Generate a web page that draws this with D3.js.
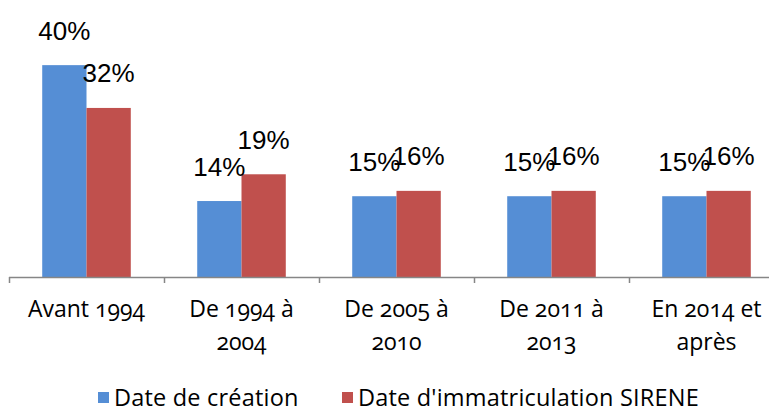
<!DOCTYPE html>
<html>
<head>
<meta charset="utf-8">
<script src="https://cdn.jsdelivr.net/npm/d3@7"></script>
<style>
  html, body { margin: 0; padding: 0; background: #fff; }
  svg { display: block; }
  .cat, .leg { font-family: "Open Sans", sans-serif; font-size: 23px; fill: #000; font-feature-settings: "onum"; }
  .leg { font-size: 23.5px; letter-spacing: 0.2px; }
  .val { font-family: "Liberation Sans", Arial, sans-serif; font-size: 26px; fill: #000; }
</style>
</head>
<body>
<svg id="chart" width="769" height="412"></svg>
<script>
const categories = ["Avant 1994", "De 1994 à\n2004", "De 2005 à\n2010", "De 2011 à\n2013", "En 2014 et\naprès"];
const seriesNames = ["Date de création", "Date d'immatriculation SIRENE"];
const creation = [39.6, 14.2, 15.1, 15.1, 15.1];
const sirene = [31.6, 19.2, 16.1, 16.1, 16.1];
const colors = ["#558ED5", "#C0504D"];

const svg = d3.select("#chart");
const baseY = 277;
const x = d3.scaleBand().domain(categories).range([9, 9 + 155 * categories.length]).paddingInner(0).paddingOuter(0);
const xs = d3.scaleBand().domain(seriesNames).range([0, x.bandwidth()]).paddingInner(0).paddingOuter(0.75);
const y = d3.scaleLinear().domain([0, 40]).range([baseY, 63]);

const data = categories.map((c, i) => ({ cat: c, vals: [creation[i], sirene[i]] }));

const groups = svg.selectAll("g.grp").data(data).join("g")
  .attr("class", "grp")
  .attr("transform", d => `translate(${x(d.cat)},0)`);

groups.selectAll("rect").data(d => d.vals.map((v, j) => ({ v, s: seriesNames[j], j }))).join("rect")
  .attr("x", d => xs(d.s))
  .attr("width", xs.bandwidth())
  .attr("y", d => y(d.v))
  .attr("height", d => baseY - y(d.v))
  .attr("fill", d => colors[d.j]);

// axis
const axisG = svg.append("g");
axisG.append("line")
  .attr("x1", x.range()[0]).attr("x2", 769)
  .attr("y1", baseY + 0.5).attr("y2", baseY + 0.5)
  .attr("stroke", "#868686").attr("stroke-width", 1.5);
const tickPos = categories.map(c => x(c)).concat([x.range()[1]]);
axisG.selectAll("line.tick").data(tickPos).join("line")
  .attr("class", "tick")
  .attr("x1", d => d + 0.5).attr("x2", d => d + 0.5)
  .attr("y1", baseY).attr("y2", baseY + 6)
  .attr("stroke", "#868686").attr("stroke-width", 1.5);

// value labels
groups.selectAll("text.val").data(d => d.vals.map((v, j) => ({ v, s: seriesNames[j], j }))).join("text")
  .attr("class", "val")
  .attr("x", d => xs(d.s) + xs.bandwidth() / 2)
  .attr("y", d => y(d.v) - 25.5)
  .attr("text-anchor", "middle")
  .text(d => Math.round(d.v) + "%");

// category labels
const catText = svg.selectAll("text.cat").data(categories).join("text")
  .attr("class", "cat")
  .attr("text-anchor", "middle")
  .attr("x", d => x(d) + x.bandwidth() / 2)
  .attr("y", 317);
catText.selectAll("tspan").data(d => d.split("\n")).join("tspan")
  .attr("x", function() { return d3.select(this.parentNode).attr("x"); })
  .attr("dy", (d, i) => i === 0 ? 0 : 33)
  .text(d => d);

// legend
const legendX = [98, 342];
const leg = svg.selectAll("g.leggrp").data(seriesNames).join("g")
  .attr("class", "leggrp")
  .attr("transform", (d, i) => `translate(${legendX[i]},392)`);
leg.append("rect").attr("width", 11).attr("height", 11).attr("fill", (d, i) => colors[i]);
leg.append("text").attr("class", "leg").attr("x", 16).attr("y", 14).text(d => d);
</script>
</body>
</html>
